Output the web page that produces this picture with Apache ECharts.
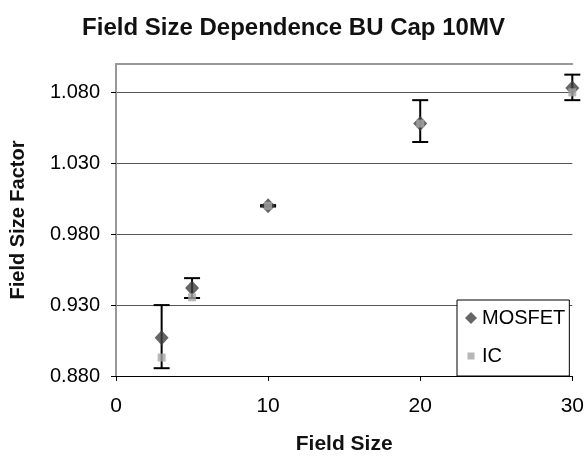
<!DOCTYPE html>
<html>
<head>
<meta charset="utf-8">
<script src="https://cdn.jsdelivr.net/npm/echarts@6/dist/echarts.min.js"></script>
<style>
html,body{margin:0;padding:0;background:#fff;}
#chart{width:587px;height:461px;}
</style>
</head>
<body>
<div id="chart"></div>
<script>
// ---- data ----
var fieldSizes = [3, 5, 10, 20, 30];
var mosfetValues = [0.907, 0.942, 1.000, 1.058, 1.083];
var mosfetErrLow = [0.8855, 0.935, 0.9995, 1.045, 1.0745];
var mosfetErrHigh = [0.930, 0.949, 1.0005, 1.0745, 1.0925];
var icValues = [0.893, 0.9355, 1.000, 1.058, 1.080];
var seriesNames = ['MOSFET', 'IC'];
var titleText = 'Field Size Dependence BU Cap 10MV';
var xAxisName = 'Field Size';
var yAxisName = 'Field Size Factor';

var FONT = '"Liberation Sans", Arial, sans-serif';

var mosData = fieldSizes.map(function (x, i) { return [x, mosfetValues[i]]; });
var icData = fieldSizes.map(function (x, i) { return [x, icValues[i]]; });
var errData = fieldSizes.map(function (x, i) { return [x, mosfetErrLow[i], mosfetErrHigh[i]]; });

var chart = echarts.init(document.getElementById('chart'), null, {renderer: 'canvas'});
chart.setOption({
  backgroundColor: '#fff',
  animation: false,
  title: {
    text: titleText,
    left: 'center',
    top: 11,
    textStyle: {fontFamily: FONT, fontWeight: 'bold', fontSize: 24, color: '#111'}
  },
  grid: {left: 114, right: 12, top: 64, bottom: 85, containLabel: false},
  legend: {
    orient: 'vertical',
    left: 457,
    top: 300,
    padding: [8, 4, 10, 8],
    itemGap: 18,
    itemWidth: 12,
    itemHeight: 12,
    borderColor: '#000',
    borderWidth: 1,
    backgroundColor: '#fff',
    textStyle: {fontFamily: FONT, fontSize: 20, color: '#000'},
    data: [
      {name: seriesNames[0], icon: 'diamond'},
      {name: seriesNames[1], icon: 'path://M0,0L0,0M12,12L12,12M2.5,2.5L9.5,2.5L9.5,9.5L2.5,9.5Z'}
    ]
  },
  xAxis: [{
    type: 'value',
    min: 0, max: 30, interval: 10,
    name: xAxisName,
    nameLocation: 'middle',
    nameGap: 58,
    nameTextStyle: {fontFamily: FONT, fontWeight: 'bold', fontSize: 21, color: '#111'},
    axisLine: {show: true, onZero: false, lineStyle: {color: '#000', width: 1}},
    axisTick: {show: true, inside: false, length: 5, lineStyle: {color: '#000'}},
    axisLabel: {fontFamily: FONT, fontSize: 21, color: '#000', margin: 20},
    splitLine: {show: false}
  }, {
    type: 'value', position: 'top', min: 0, max: 30,
    axisLine: {show: true, lineStyle: {color: '#999', width: 2}},
    axisTick: {show: false}, axisLabel: {show: false}, splitLine: {show: false}
  }],
  yAxis: [{
    type: 'value',
    min: 0.88, max: 1.10, interval: 0.05,
    name: yAxisName,
    nameLocation: 'middle',
    nameGap: 88,
    nameTextStyle: {fontFamily: FONT, fontWeight: 'bold', fontSize: 20, color: '#111'},
    axisLine: {show: true, onZero: false, lineStyle: {color: '#000', width: 1}},
    axisTick: {show: true, inside: false, length: 5, lineStyle: {color: '#000'}},
    axisLabel: {
      fontFamily: FONT, fontSize: 20, color: '#000', margin: 16,
      showMaxLabel: false,
      formatter: function (v) { return v.toFixed(3); }
    },
    splitLine: {show: true, showMinLine: false, showMaxLine: false, lineStyle: {color: '#555', width: 1}}
  }, {
    type: 'value', position: 'right', min: 0.88, max: 1.10,
    axisLine: {show: true, lineStyle: {color: '#999', width: 2}},
    axisTick: {show: false}, axisLabel: {show: false}, splitLine: {show: false}
  }],
  series: [
    {
      type: 'custom',
      name: 'errorbars',
      z: 2,
      clip: false,
      data: errData,
      renderItem: function (params, api) {
        var x = api.value(0);
        var lo = api.coord([x, api.value(1)]);
        var hi = api.coord([x, api.value(2)]);
        var w = 8;
        var st = {stroke: '#000', lineWidth: 2};
        return {
          type: 'group',
          children: [
            {type: 'line', shape: {x1: lo[0], y1: lo[1], x2: hi[0], y2: hi[1]}, style: st},
            {type: 'line', shape: {x1: hi[0] - w, y1: hi[1], x2: hi[0] + w, y2: hi[1]}, style: st},
            {type: 'line', shape: {x1: lo[0] - w, y1: lo[1], x2: lo[0] + w, y2: lo[1]}, style: st}
          ]
        };
      }
    },
    {
      type: 'scatter',
      name: seriesNames[0],
      z: 3,
      symbol: 'diamond',
      symbolSize: [14, 15],
      itemStyle: {color: '#404040'},
      data: mosData
    },
    {
      type: 'scatter',
      name: seriesNames[1],
      z: 4,
      symbol: 'rect',
      symbolSize: 8,
      itemStyle: {color: '#a5a5a5'},
      data: icData
    }
  ]
});
</script>
</body>
</html>
